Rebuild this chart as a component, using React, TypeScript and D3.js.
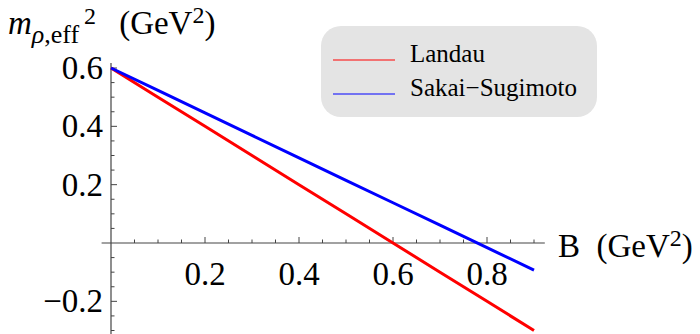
import React from "react";
import * as d3 from "d3";

// B field values (GeV^2) and the two effective mass curves
const bValues = [0, 0.1, 0.2, 0.3, 0.4, 0.5, 0.6, 0.7, 0.8, 0.9];
const landau = [0.6, 0.5, 0.4, 0.3, 0.2, 0.1, 0.0, -0.1, -0.2, -0.3];
const sakaiSugimoto = [0.6, 0.523, 0.446, 0.369, 0.292, 0.215, 0.138, 0.061, -0.016, -0.093];

const seriesNames = ["Landau", "Sakai\u2212Sugimoto"];
const seriesColors = ["#ff0000", "#0000ff"];

const xMajor = [0.2, 0.4, 0.6, 0.8];
const yMajor = [-0.2, 0.2, 0.4, 0.6];
const xTickLabels = ["0.2", "0.4", "0.6", "0.8"];
const yTickLabels = ["\u22120.2", "0.2", "0.4", "0.6"];

const W = 700;
const H = 334;
const serif = "'Liberation Serif', 'Times New Roman', serif";
const axisColor = "#444";
const labelSize = 33;
const supSize = 24;

export default function App() {
  const x = d3.scaleLinear().domain([0, 0.9]).range([111, 534]);
  const y = d3.scaleLinear().domain([0, 0.6]).range([243, 68]);

  const line = d3
    .line<number>()
    .x((d, i) => x(bValues[i]))
    .y((d) => y(d));

  const xMinor = d3.range(1, 19).map((i) => i * 0.05).filter((v) => !xMajor.some((m) => Math.abs(m - v) < 1e-6));
  const yMinor = d3.range(-6, 13).map((i) => i * 0.05).filter((v) => Math.abs(v) > 1e-6 && !yMajor.some((m) => Math.abs(m - v) < 1e-6));

  const series = [landau, sakaiSugimoto];

  return (
    <svg width={W} height={H} style={{ position: "absolute", left: 0, top: 0, background: "#fff" }}>
      {/* axes */}
      <line x1={x(-0.02)} x2={x(0.923)} y1={y(0)} y2={y(0)} stroke={axisColor} strokeWidth={1.2} />
      <line x1={x(0)} x2={x(0)} y1={y(0.617)} y2={H} stroke={axisColor} strokeWidth={1.2} />
      {xMinor.map((v) => (
        <line key={"xm" + v} x1={x(v)} x2={x(v)} y1={y(0)} y2={y(0) - 3.5} stroke={axisColor} />
      ))}
      {xMajor.map((v) => (
        <line key={"xM" + v} x1={x(v)} x2={x(v)} y1={y(0)} y2={y(0) - 6} stroke={axisColor} />
      ))}
      {yMinor.map((v) => (
        <line key={"ym" + v} x1={x(0)} x2={x(0) + 3.5} y1={y(v)} y2={y(v)} stroke={axisColor} />
      ))}
      {yMajor.map((v) => (
        <line key={"yM" + v} x1={x(0)} x2={x(0) + 6} y1={y(v)} y2={y(v)} stroke={axisColor} />
      ))}

      {/* tick labels */}
      {xMajor.map((v, i) => (
        <text key={"xl" + v} x={x(v)} y={y(0) + 42} textAnchor="middle" fontFamily={serif} fontSize={labelSize} fill="#000">
          {xTickLabels[i]}
        </text>
      ))}
      {yMajor.map((v, i) => (
        <text key={"yl" + v} x={x(0) - 8} y={y(v) + 11} textAnchor="end" fontFamily={serif} fontSize={labelSize} fill="#000">
          {yTickLabels[i]}
        </text>
      ))}

      {/* curves */}
      {series.map((s, i) => (
        <path key={seriesNames[i]} d={line(s) || ""} fill="none" stroke={seriesColors[i]} strokeWidth={3} />
      ))}

      {/* axis titles */}
      <text x={8} y={34} fontFamily={serif} fontSize={labelSize} fill="#000">
        <tspan fontStyle="italic">m</tspan>
        <tspan fontSize={26} dy={9}>
          <tspan fontStyle="italic">ρ</tspan>,eff
        </tspan>
        <tspan fontSize={supSize} dy={-19}>{"\u20092"}</tspan>
        <tspan dy={10}>{"\u2002\u2009(GeV"}</tspan>
        <tspan fontSize={supSize} dy={-11}>2</tspan>
        <tspan dy={11}>)</tspan>
      </text>
      <text x={558} y={257} fontFamily={serif} fontSize={labelSize} fill="#000">
        {"B\u2002(GeV"}
        <tspan fontSize={supSize} dy={-11}>2</tspan>
        <tspan dy={11}>)</tspan>
      </text>

      {/* legend */}
      <rect x={321} y={26} width={276} height={91} rx={20} ry={20} fill="#e4e4e4" />
      {seriesNames.map((name, i) => (
        <g key={"lg" + name}>
          <line x1={333} x2={395} y1={60 + i * 34} y2={60 + i * 34} stroke={seriesColors[i]} strokeWidth={1} />
          <text x={410} y={62 + i * 34} fontFamily={serif} fontSize={25} fill="#000">
            {name}
          </text>
        </g>
      ))}
    </svg>
  );
}
